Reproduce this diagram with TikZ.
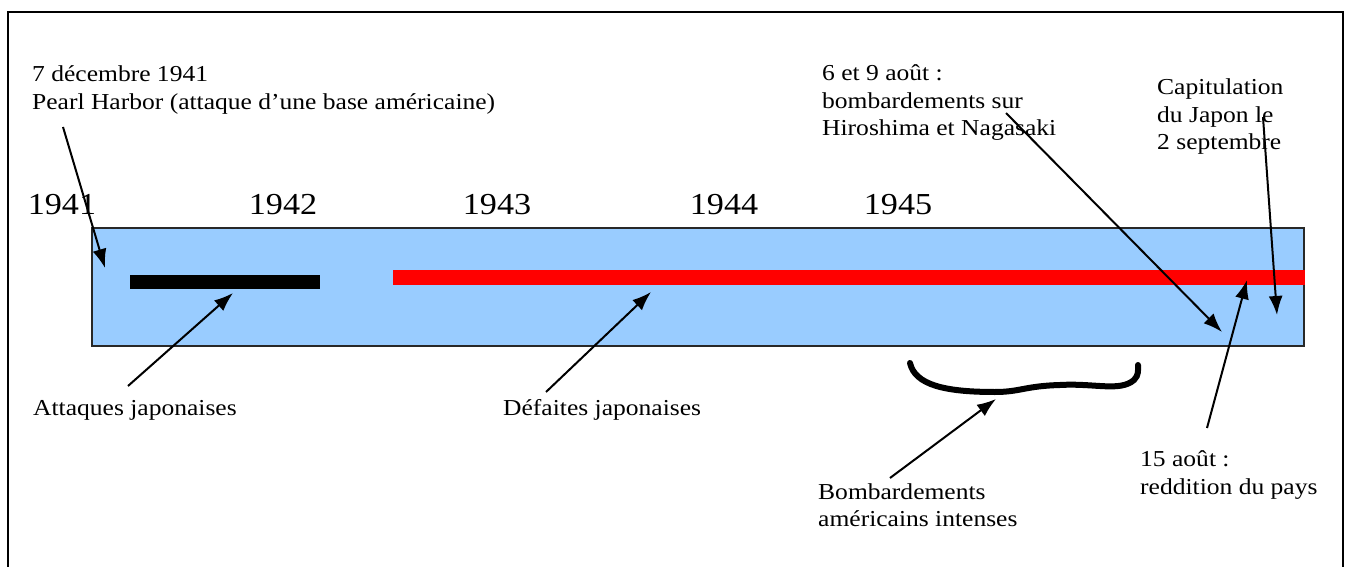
\documentclass[tikz,border=0pt]{standalone}
\usepackage{fontspec}
\setmainfont{Liberation Serif}[FakeStretch=1.12]
\usetikzlibrary{arrows.meta}
\definecolor{barblue}{RGB}{153,204,255}
\definecolor{edgegray}{RGB}{40,40,40}
\tikzset{
  lbl/.style={anchor=west, align=left, inner sep=0pt, font=\fontsize{22.8}{27.5}\selectfont},
  yr/.style={anchor=center, inner sep=0pt, font=\fontsize{30.5}{32}\selectfont},
  arr/.style={line width=2pt, -{Latex[length=19pt,width=14pt]}},
}
\begin{document}
\begin{tikzpicture}[x=1pt,y=-1pt]
\useasboundingbox (0,0) rectangle (1347,567);
% outer frame
\draw[line width=2pt] (8,575) -- (8,12) -- (1343,12) -- (1343,575);
% timeline band
\draw[fill=barblue, draw=edgegray, line width=1.5pt] (92,228) rectangle (1304,346);
\fill[red] (393,270) rectangle (1305,285);
\fill[black] (130,275) rectangle (320,289);
% years
\node[yr] (y41) at (62,205) {1941};
\node[yr] (y42) at (283,205) {1942};
\node[yr] (y43) at (497,205) {1943};
\node[yr] (y44) at (724,205) {1944};
\node[yr] (y45) at (898,205) {1945};
% labels
\node[lbl] (pearl) at (32,90) {7 décembre 1941\\Pearl Harbor (attaque d’une base américaine)};
\node[lbl] (hiro) at (822,103) {6 et 9 août :\\bombardements sur\\Hiroshima et Nagasaki};
\node[lbl] (capit) at (1157,117) {Capitulation\\du Japon le\\2 septembre};
\node[lbl] (att) at (33,410) {Attaques japonaises};
\node[lbl] (def) at (503,410) {Défaites japonaises};
\node[lbl] (bomb) at (818,505) {Bombardements\\américains intenses};
\node[lbl] (redd) at (1140,475) {15 août :\\reddition du pays};
% arrow endpoints
\coordinate (pearlS) at (63,127);
\coordinate (pearlT) at (105,268);
\coordinate (attS) at (128,386);
\coordinate (attT) at (233,293);
\coordinate (defS) at (546,392);
\coordinate (defT) at (651,292);
\coordinate (bombS) at (890,478);
\coordinate (bombT) at (996,399);
\coordinate (hiroS) at (1006,113);
\coordinate (hiroT) at (1222,332);
\coordinate (capS) at (1263,117);
\coordinate (capT) at (1277,315);
\coordinate (reddS) at (1207,428);
\coordinate (reddT) at (1247,280);
\draw[arr] (pearlS) -- (pearlT);
\draw[arr] (attS) -- (attT);
\draw[arr] (defS) -- (defT);
\draw[arr] (bombS) -- (bombT);
\draw[arr] (hiroS) -- (hiroT);
\draw[arr] (capS) -- (capT);
\draw[arr] (reddS) -- (reddT);
% brace
\coordinate (brL) at (910,363);
\coordinate (brR) at (1138,365);
\draw[line width=6pt, line cap=round] (brL) .. controls (915,385) and (945,392) .. (995,392)
  .. controls (1020,392) and (1025,386) .. (1060,385)
  .. controls (1095,383) and (1120,392) .. (1134,380)
  .. controls (1139,375) and (1138,370) .. (brR);
\end{tikzpicture}
\end{document}
